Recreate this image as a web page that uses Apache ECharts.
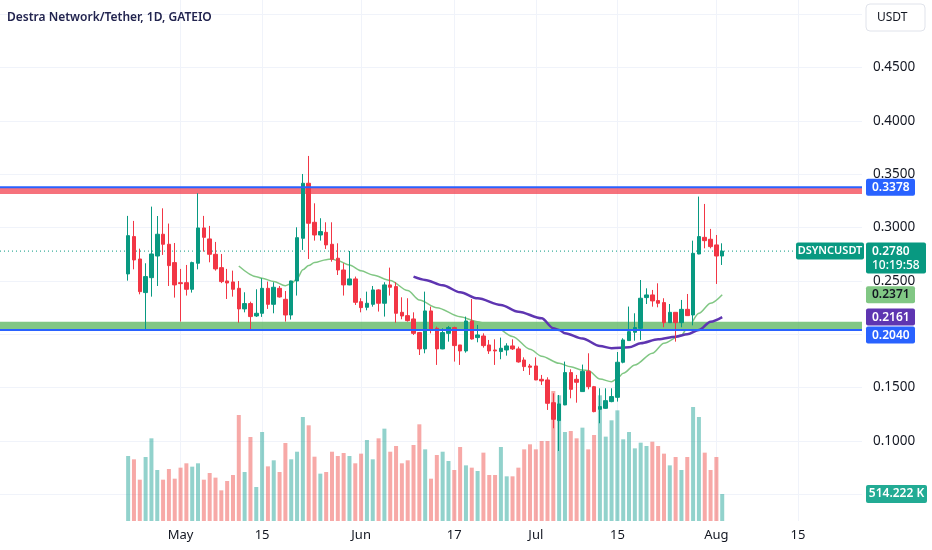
<!DOCTYPE html>
<html>
<head>
<meta charset="utf-8">
<title>Destra Network/Tether, 1D, GATEIO</title>
<script src="https://cdn.jsdelivr.net/npm/echarts@6.0.0/dist/echarts.min.js"></script>
<style>
  html, body { margin: 0; padding: 0; background: #ffffff; }
  #chart { width: 932px; height: 550px; }
</style>
</head>
<body>
<div id="chart"></div>
<script>
// daily candles, 2024-04-22 .. 2024-08-02
var firstCandle = '2024-04-22';
var axisStart = '2024-03-31';
var axisDays = 149;

var open = [
  .2566,.2916,.2706,.2391,.2531,.2734,.2938,.2844,.2672,.2484,
  .2484,.2422,.2666,.2997,.2894,.2750,.2625,.2500,.2491,.2431,
  .2238,.2288,.2172,.2197,.2431,.2281,.2431,.2328,.2181,.2500,
  .2900,.3416,.3050,.2931,.2956,.2844,.2713,.2603,.2463,.2519,
  .2306,.2253,.2281,.2416,.2291,.2463,.2447,.2206,.2175,.2144,
  .2016,.1863,.2219,.2056,.1863,.2009,.2063,.1900,.1844,.2125,
  .1969,.1984,.1900,.1853,.1838,.1853,.1891,.1863,.1759,.1703,
  .1703,.1578,.1572,.1359,.1191,.1338,.1641,.1578,.1463,.1653,
  .1509,.1297,.1306,.1369,.1409,.1738,.1941,.2019,.2056,.2344,
  .2369,.2316,.2297,.2109,.2206,.2109,.2234,.2181,.2753,.2909,
  .2891,.2838,.2734
];
var close = [
  .2925,.2697,.2400,.2541,.2753,.2938,.2844,.2644,.2463,.2475,
  .2422,.2672,.2997,.2909,.2750,.2613,.2494,.2481,.2422,.2238,
  .2288,.2166,.2197,.2431,.2281,.2441,.2350,.2181,.2500,.2906,
  .3416,.3041,.2931,.2963,.2838,.2703,.2603,.2463,.2519,.2300,
  .2250,.2291,.2416,.2291,.2463,.2441,.2197,.2172,.2128,.2009,
  .1863,.2219,.2041,.1863,.2016,.2063,.1894,.1844,.2125,.1956,
  .1994,.1894,.1844,.1844,.1869,.1891,.1863,.1741,.1697,.1691,
  .1572,.1563,.1353,.1203,.1347,.1641,.1484,.1550,.1653,.1509,
  .1275,.1322,.1378,.1416,.1738,.1947,.2025,.2063,.2338,.2369,
  .2313,.2291,.2109,.2206,.2109,.2234,.2175,.2759,.2916,.2878,
  .2822,.2734,.2780
];
var low = [
  .2503,.2609,.2375,.2037,.2353,.2453,.2744,.2453,.2344,.2119,
  .2363,.2391,.2609,.2775,.2675,.2597,.2480,.2331,.2353,.2109,
  .2206,.2038,.2163,.2163,.2238,.2197,.2344,.2119,.2138,.2363,
  .2791,.2706,.2878,.2878,.2800,.2681,.2556,.2363,.2460,.2275,
  .2206,.2225,.2259,.2213,.2166,.2363,.2109,.2141,.2119,.1994,
  .1806,.1822,.2009,.1713,.1860,.1931,.1744,.1713,.1828,.1950,
  .1925,.1875,.1816,.1713,.1766,.1800,.1853,.1734,.1656,.1619,
  .1570,.1525,.1291,.1119,.0906,.1335,.1400,.1359,.1463,.1484,
  .1269,.1166,.1300,.1363,.1369,.1728,.1940,.1940,.1947,.2284,
  .2259,.2253,.2066,.2106,.1931,.2066,.2172,.2084,.2750,.2806,
  .2806,.2472,.2650
];
var high = [
  .3110,.3063,.2803,.2666,.3197,.3109,.3181,.3038,.2856,.2613,
  .2650,.2681,.3322,.3110,.3016,.2866,.2753,.2613,.2597,.2500,
  .2394,.2306,.2422,.2525,.2494,.2488,.2453,.2406,.2503,.3003,
  .3503,.3672,.3228,.3088,.3050,.3050,.2853,.2666,.2781,.2541,
  .2338,.2400,.2453,.2422,.2488,.2625,.2488,.2347,.2338,.2206,
  .2022,.2400,.2260,.2072,.2056,.2078,.2072,.1900,.2166,.2331,
  .2088,.2009,.1947,.1953,.1969,.1916,.1953,.1884,.1784,.1722,
  .1784,.1619,.1597,.1447,.1431,.1744,.1672,.1619,.1716,.1822,
  .1516,.1494,.1494,.1494,.1834,.1963,.2260,.2197,.2509,.2431,
  .2416,.2478,.2338,.2284,.2206,.2322,.2378,.2878,.3291,.3222,
  .2988,.2931,.2853
];
// volume in thousands of DSYNC
var volume = [
  1238,1175,787,1219,1575,972,787,991,806,1016,
  1099,1035,1099,787,914,826,584,762,876,2019,
  933,1600,648,1695,1041,1156,933,1486,1175,1320,
  1981,1823,1225,902,933,1320,1238,1295,1238,1099,
  1283,1543,1175,1575,1759,1320,1429,1099,1156,1448,
  1842,1365,806,1257,1320,1143,972,1410,1060,1016,
  953,1302,876,876,1410,851,851,1016,1365,1461,
  1365,1524,1524,2477,2394,1695,1714,1575,1778,1365,
  1638,2394,1607,1918,2108,1556,1695,1384,1492,1429,
  1511,1429,1283,1060,1219,972,1219,2172,1981,1302,
  972,1219,514.222
];

// moving averages (candle number, value)
var ma20Bar = [20,23,24,26,28,29,30,31,32,33,35,36,37,39,41,43,46,49,51,54,58,61,64,67,70,72,75,77,79,80,82,84,85,86,88,91,93,96,97,99,101,103];
var ma20Val = [.2640,.2540,.2525,.2495,.2455,.2475,.2520,.2605,.2645,.2672,.2700,.2706,.2690,.2650,.2595,.2556,.2505,.2410,.2322,.2250,.2165,.2118,.2070,.1980,.1860,.1795,.1728,.1695,.1665,.1660,.1580,.1556,.1585,.1635,.1712,.1822,.1916,.1993,.2056,.2197,.2291,.2371];
var ma50Bar = [50,52,55,58,61,65,68,72,74,75,76,79,82,84,87,89,92,95,97,99,101,103];
var ma50Val = [.2540,.2510,.2460,.2394,.2337,.2275,.2212,.2150,.2056,.2040,.2010,.1960,.1890,.1869,.1878,.1916,.1953,.1978,.2000,.2040,.2118,.2161];

// drawn levels
var resistTop = 0.3378, resistBand = [0.3315, 0.3375];
var supportLine = 0.2040, supportBand = [0.2045, 0.2118];
var lastPrice = 0.2780;

var tickDays = ['2024-05-01','2024-05-15','2024-06-01','2024-06-17','2024-07-01','2024-07-15','2024-08-01','2024-08-15'];
var tickNames = ['May','15','Jun','17','Jul','15','Aug','15'];

var days = [];
var t0 = Date.parse(axisStart + 'T00:00:00Z');
for (var i = 0; i < axisDays; i++) {
  days.push(new Date(t0 + i * 86400000).toISOString().slice(0, 10));
}
var startIdx = days.indexOf(firstCandle);
function dayOf(n) { return days[startIdx + n - 1]; }

var candles = [], vols = [];
for (var k = 0; k < open.length; k++) {
  var d = days[startIdx + k];
  var up = close[k] >= open[k];
  candles.push([d, open[k], close[k], low[k], high[k]]);
  vols.push({ value: [d, volume[k]], itemStyle: { color: up ? 'rgba(38,166,154,0.5)' : 'rgba(239,83,80,0.5)' } });
}
var ma20 = ma20Bar.map(function (n, i) { return [dayOf(n), ma20Val[i]]; });
var ma50 = ma50Bar.map(function (n, i) { return [dayOf(n), ma50Val[i]]; });
function level(v) { return [[days[0], v], [days[days.length - 1], v]]; }

var font = '"Noto Sans", sans-serif';
var gridColor = '#f0f3fa';
function isTick(i, v) { return tickDays.indexOf(v) >= 0; }

var chart = echarts.init(document.getElementById('chart'));
var option = {
  animation: false,
  backgroundColor: '#ffffff',
  textStyle: { fontFamily: font },
  grid: [
    { left: 0, right: 70, top: 0, bottom: 55.7, outerBoundsMode: 'none' },
    { left: 0, right: 70, top: 0, bottom: 29, outerBoundsMode: 'none' }
  ],
  xAxis: [
    { type: 'category', gridIndex: 0, data: days, boundaryGap: false, show: false },
    {
      type: 'category', gridIndex: 1, data: days, boundaryGap: false,
      axisLine: { show: false }, axisTick: { show: false },
      axisLabel: {
        interval: isTick, color: '#131722', fontSize: 13, margin: 8, fontFamily: font,
        formatter: function (v) { return tickNames[tickDays.indexOf(v)]; }
      },
      splitLine: { show: true, interval: isTick, lineStyle: { color: gridColor, width: 1 } }
    }
  ],
  yAxis: [
    {
      type: 'value', gridIndex: 0, position: 'right', min: 0.05, max: 0.5134, interval: 0.05,
      axisLine: { show: false }, axisTick: { show: false },
      axisLabel: {
        showMinLabel: false, showMaxLabel: false, color: '#131722', fontSize: 13.5, margin: 11, fontFamily: font,
        formatter: function (v) { return v.toFixed(4); }
      },
      splitLine: { showMaxLine: false, lineStyle: { color: gridColor, width: 1 } }
    },
    { type: 'value', gridIndex: 1, min: 0, max: 9925, show: false, splitLine: { show: false } }
  ],
  series: [
    {
      name: 'Volume', type: 'bar', xAxisIndex: 1, yAxisIndex: 1, barWidth: 4,
      encode: { x: 0, y: 1 }, data: vols, z: 1
    },
    {
      name: 'DSYNCUSDT', type: 'candlestick', xAxisIndex: 0, yAxisIndex: 0, barWidth: 4,
      encode: { x: 0, y: [1, 2, 3, 4] },
      data: candles, z: 3,
      itemStyle: { color: '#089981', color0: '#f23645', borderColor: '#089981', borderColor0: '#f23645', borderWidth: 1 },
      markArea: {
        silent: true,
        data: [
          [{ yAxis: resistBand[0], itemStyle: { color: 'rgba(242,54,69,0.7)' } }, { yAxis: resistBand[1] }],
          [{ yAxis: supportBand[0], itemStyle: { color: 'rgba(76,175,80,0.7)' } }, { yAxis: supportBand[1] }]
        ]
      }
    },
    {
      name: 'Last price', type: 'line', xAxisIndex: 0, yAxisIndex: 0, data: level(lastPrice), z: 2,
      showSymbol: false, silent: true, lineStyle: { color: '#089981', width: 1, type: [1, 3] }
    },
    {
      name: 'Resistance', type: 'line', xAxisIndex: 0, yAxisIndex: 0, data: level(resistTop), z: 4,
      showSymbol: false, silent: true, lineStyle: { color: '#2962ff', width: 2 }
    },
    {
      name: 'Support', type: 'line', xAxisIndex: 0, yAxisIndex: 0, data: level(supportLine), z: 4,
      showSymbol: false, silent: true, lineStyle: { color: '#2962ff', width: 2 }
    },
    {
      name: 'EMA 20', type: 'line', xAxisIndex: 0, yAxisIndex: 0, data: ma20, z: 2,
      showSymbol: false, smooth: 0.3, smoothMonotone: 'x', lineStyle: { color: '#81c784', width: 1.5 }
    },
    {
      name: 'EMA 50', type: 'line', xAxisIndex: 0, yAxisIndex: 0, data: ma50, z: 2,
      showSymbol: false, smooth: 0.3, smoothMonotone: 'x', lineStyle: { color: '#5e35b1', width: 2.5 }
    }
  ]
};
chart.setOption(option);

// price-scale labels, placed through the axes
function py(v) { return chart.convertToPixel({ yAxisIndex: 0 }, v); }
var els = [];
function tag(x, top, w, h, fill, rows, color) {
  els.push({ type: 'rect', z: 100, shape: { x: x, y: top, width: w, height: h, r: 2 }, style: { fill: fill } });
  rows.forEach(function (r, i) {
    els.push({ type: 'text', z: 101, style: {
      text: r, x: x + 6, y: top + 8.5 + i * 14, verticalAlign: 'middle',
      fill: color, font: (i ? '500 ' : '600 ') + '12px ' + font
    } });
  });
}
var tags = [
  { v: resistTop, fill: '#2962ff', rows: ['0.3378'], color: '#ffffff', h: 17, w: 49 },
  { v: lastPrice, fill: '#089981', rows: ['0.2780', '10:19:58'], color: '#ffffff', h: 31, w: 60 },
  { v: ma20Val[ma20Val.length - 1], fill: '#81c784', rows: ['0.2371'], color: '#131722', h: 17, w: 49 },
  { v: ma50Val[ma50Val.length - 1], fill: '#5e35b1', rows: ['0.2161'], color: '#ffffff', h: 17, w: 49 },
  { v: supportLine, fill: '#2962ff', rows: ['0.2040'], color: '#ffffff', h: 17, w: 49 }
];
var prevBottom = -100;
tags.forEach(function (t) {
  var top = py(t.v) - 8.5;
  if (top < prevBottom + 1) top = prevBottom + 1;
  tag(866, top, t.w, t.h, t.fill, t.rows, t.color);
  prevBottom = top + t.h;
});
// symbol tag next to the last price
var yl = py(lastPrice);
els.push({ type: 'rect', z: 100, shape: { x: 796, y: yl - 8.5, width: 68, height: 17, r: 2 }, style: { fill: '#089981' } });
els.push({ type: 'text', z: 101, style: { text: 'DSYNCUSDT', x: 830, y: yl, align: 'center', verticalAlign: 'middle', fill: '#ffffff', font: '600 11px ' + font } });
// volume tag
var yv = chart.convertToPixel({ yAxisIndex: 1 }, volume[volume.length - 1]);
els.push({ type: 'rect', z: 100, shape: { x: 866, y: yv - 9, width: 61, height: 18, r: 2 }, style: { fill: '#22ab94' } });
els.push({ type: 'text', z: 101, style: { text: '514.222 K', x: 896.5, y: yv, align: 'center', verticalAlign: 'middle', fill: '#ffffff', font: '600 12px ' + font } });
// currency button and title
els.push({ type: 'rect', z: 100, shape: { x: 866, y: 4, width: 59, height: 27, r: 4 }, style: { fill: '#ffffff', stroke: '#e0e3eb', lineWidth: 1 } });
els.push({ type: 'text', z: 101, style: { text: 'USDT', x: 877, y: 18, verticalAlign: 'middle', fill: '#131722', font: '12px ' + font } });
els.push({ type: 'text', z: 101, style: { text: 'Destra Network/Tether, 1D, GATEIO', x: 7, y: 18, verticalAlign: 'middle', fill: '#22244f', font: '600 12px ' + font } });
chart.setOption({ graphic: els });

window.onresize = chart.resize;
</script>
</body>
</html>
